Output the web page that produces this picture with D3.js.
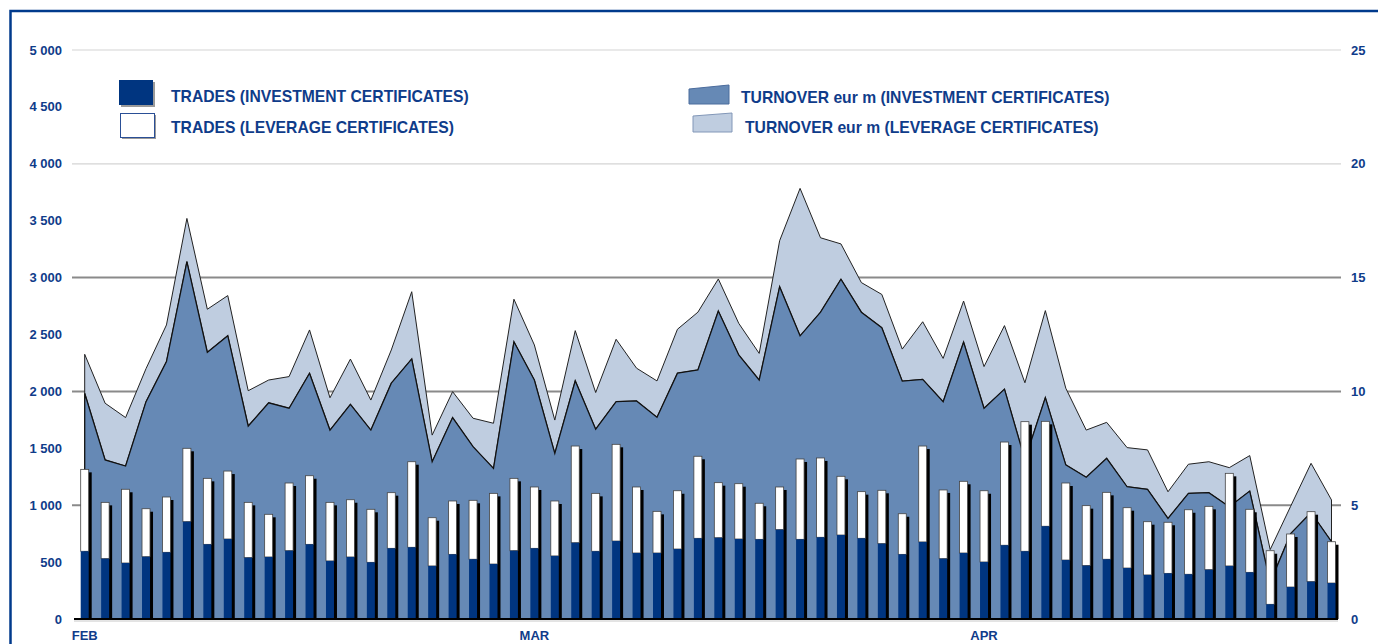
<!DOCTYPE html>
<html>
<head>
<meta charset="utf-8">
<script src="https://cdn.jsdelivr.net/npm/d3@7"></script>
<style>
  body { margin: 0; background: #fff; }
  svg { display: block; font-family: "Liberation Sans", Arial, sans-serif; font-weight: bold; }
</style>
</head>
<body>
<svg id="chart" width="1378" height="644"></svg>
<script>
// trading days feb-apr
const days = d3.range(1, 63)
const monthLabels = ["FEB", "MAR", "APR"]
const monthAt = [1, 23, 45]

// trades (left axis)
const tradesInv = [595, 530, 492, 547, 586, 855, 656, 703, 539, 545, 600, 656, 510, 545, 498, 621, 630, 466, 568, 525,
    483, 600, 621, 554, 670, 595, 685, 580, 580, 615, 709, 714, 703, 700, 785, 700, 718, 738, 709, 662, 568,
    677, 530, 580, 501, 648, 595, 815, 518, 469, 525, 448, 387, 401, 393, 433, 466, 410, 129, 281, 328, 316]
const tradesLev = [720, 495, 648, 422, 486, 645, 580, 597, 486, 375, 595, 603, 515, 503, 466, 489, 752, 424, 469, 518,
    621, 636, 539, 483, 850, 509, 850, 580, 366, 512, 721, 484, 486, 317, 375, 706, 697, 516, 410, 469, 357,
    843, 604, 630, 626, 907, 1139, 922, 677, 527, 588, 530, 468, 449, 567, 557, 814, 554, 471, 466, 615, 363]

// turnover eur m (right axis)
const turnInv = [9.92, 6.99, 6.72, 9.55, 11.31, 15.70, 11.72, 12.45, 8.48, 9.50, 9.26, 10.80, 8.30, 9.43, 8.30, 10.36, 11.43, 6.91, 8.85, 7.57,
    6.62, 12.18, 10.50, 7.28, 10.47, 8.34, 9.55, 9.58, 8.86, 10.80, 10.94, 13.53, 11.60, 10.50, 14.60, 12.44, 13.48, 14.93, 13.48, 12.80, 10.45, 10.53,
    9.55, 12.17, 9.26, 10.10, 7.00, 9.73, 6.77, 6.23, 7.06, 5.81, 5.70, 4.42, 5.52, 5.55, 4.93, 5.62, 1.60, 3.75, 4.68, 3.40]
const turnLev = [1.71, 2.49, 2.13, 1.45, 1.61, 1.90, 1.89, 1.76, 1.55, 1.00, 1.39, 1.90, 1.42, 1.99, 1.32, 1.46, 2.95, 1.17, 1.14, 1.25,
    1.98, 1.87, 1.54, 1.46, 2.20, 1.61, 2.74, 1.44, 1.60, 1.93, 2.54, 1.41, 1.39, 1.17, 2.02, 6.48, 3.27, 1.55, 1.30, 1.46, 1.41, 2.53,
    1.90, 1.80, 1.83, 2.79, 3.38, 3.82, 3.37, 2.07, 1.58, 1.72, 1.73, 1.17, 1.28, 1.36, 1.72, 1.56, 1.45, 1.20, 2.16, 1.83]

const leftTicks = [0, 500, 1000, 1500, 2000, 2500, 3000, 3500, 4000, 4500, 5000]
const rightTicks = [0, 5, 10, 15, 20, 25]

const blue = "#0f3c8a"
const svg = d3.select("#chart")

const x = d3.scalePoint().domain(days).range([84.7, 1331.5])
const yL = d3.scaleLinear().domain([0, 5000]).range([619, 50])
const yR = d3.scaleLinear().domain([0, 25]).range([619, 50])

// frame
svg.append("path").attr("d", "M10.5,700 V11 H1400")
    .attr("fill", "none").attr("stroke", "#003a8c").attr("stroke-width", 2.5)

// grid lines
svg.append("g").selectAll("line")
    .data([1000, 2000, 3000, 4000, 5000])
    .enter().append("line")
    .attr("x1", 72).attr("x2", 1341)
    .attr("y1", d => yL(d)).attr("y2", d => yL(d))
    .attr("stroke", d => d > 3000 ? "#d4d4d4" : "#8a8a8a")
    .attr("stroke-width", d => d > 3000 ? 1.2 : 2)

// stacked turnover
const rows = days.map((d, i) => ({ day: d, inv: turnInv[i], tot: turnInv[i] + turnLev[i] }))

const areaLev = d3.area().x(d => x(d.day)).y0(d => yR(d.inv)).y1(d => yR(d.tot))
const areaInv = d3.area().x(d => x(d.day)).y0(yR(0)).y1(d => yR(d.inv))

svg.append("path").datum(rows).attr("d", areaLev)
    .attr("fill", "#bfcde0").attr("stroke", "#222").attr("stroke-width", 1).attr("stroke-linejoin", "miter")
svg.append("path").datum(rows).attr("d", areaInv)
    .attr("fill", "#6689b5").attr("stroke", "#111").attr("stroke-width", 1.3)

// trades bars
const bw = 8
const bars = svg.append("g").selectAll("g").data(days).enter().append("g")

bars.append("rect")
    .attr("x", d => x(d) - 4 + 3)
    .attr("y", (d, i) => yL(tradesInv[i] + tradesLev[i]) + 3)
    .attr("width", bw)
    .attr("height", (d, i) => yL(0) - yL(tradesInv[i] + tradesLev[i]) - 3)
    .attr("fill", "#000")

bars.append("rect")
    .attr("x", d => x(d) - 4)
    .attr("y", (d, i) => yL(tradesInv[i] + tradesLev[i]))
    .attr("width", bw)
    .attr("height", (d, i) => yL(tradesInv[i]) - yL(tradesInv[i] + tradesLev[i]))
    .attr("fill", "#fff").attr("stroke", "#444").attr("stroke-width", 0.8)

bars.append("rect")
    .attr("x", d => x(d) - 4)
    .attr("y", (d, i) => yL(tradesInv[i]))
    .attr("width", bw)
    .attr("height", (d, i) => yL(0) - yL(tradesInv[i]))
    .attr("fill", "#003580")

// x axis line
svg.append("line").attr("x1", 74).attr("x2", 1338).attr("y1", 621).attr("y2", 621)
    .attr("stroke", "#c8c8c8").attr("stroke-width", 1)
svg.append("line").attr("x1", 74).attr("x2", 1338).attr("y1", 619).attr("y2", 619)
    .attr("stroke", "#000").attr("stroke-width", 2)

// left axis
svg.append("g").selectAll("text").data(leftTicks).enter().append("text")
    .attr("x", 62).attr("y", d => yL(d)).attr("dy", "0.35em")
    .attr("text-anchor", "end").attr("fill", blue).attr("font-size", 13)
    .text(d => d3.format(",")(d).replace(",", " "))

// right axis
svg.append("g").selectAll("text").data(rightTicks).enter().append("text")
    .attr("x", 1351).attr("y", d => yR(d)).attr("dy", "0.35em")
    .attr("fill", blue).attr("font-size", 13)
    .text(d => d)

// months
svg.append("g").selectAll("text").data(monthLabels).enter().append("text")
    .attr("x", (d, i) => x(monthAt[i])).attr("y", 640)
    .attr("text-anchor", "middle").attr("fill", blue).attr("font-size", 13)
    .text(d => d)

// legend
const lg = svg.append("g")
lg.append("rect").attr("x", 121).attr("y", 82).attr("width", 34).attr("height", 25).attr("fill", "#9a9a9a")
lg.append("rect").attr("x", 119).attr("y", 80).attr("width", 34).attr("height", 25).attr("fill", "#003580")
lg.append("rect").attr("x", 122).attr("y", 115).attr("width", 34).attr("height", 24).attr("fill", "#9a9a9a")
lg.append("rect").attr("x", 120.5).attr("y", 113.5).attr("width", 34).attr("height", 24)
    .attr("fill", "#fff").attr("stroke", "#2a4f96").attr("stroke-width", 1)
lg.append("path").attr("d", "M689,89 L729,85 L729,104 L689,104 Z")
    .attr("fill", "#6689b5").attr("stroke", "#4b6c9d").attr("stroke-width", 1)
lg.append("path").attr("d", "M693,116 L732,113 L732,132 L693,132 Z")
    .attr("fill", "#bfcde0").attr("stroke", "#8297b8").attr("stroke-width", 1)

const legendText = [
    ["TRADES (INVESTMENT CERTIFICATES)", 171, 102],
    ["TRADES (LEVERAGE CERTIFICATES)", 171, 133],
    ["TURNOVER eur m (INVESTMENT CERTIFICATES)", 741, 103],
    ["TURNOVER eur m (LEVERAGE CERTIFICATES)", 745, 133]
]
lg.selectAll("text").data(legendText).enter().append("text")
    .attr("x", d => d[1]).attr("y", d => d[2])
    .attr("fill", blue).attr("font-size", 15.7)
    .text(d => d[0])
</script>
</body>
</html>
